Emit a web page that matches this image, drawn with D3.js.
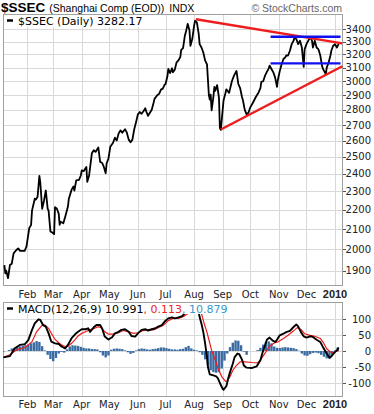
<!DOCTYPE html>
<html><head><meta charset="utf-8">
<script src="https://cdn.jsdelivr.net/npm/d3@7"></script>
<style>body{margin:0;background:#fff}svg{display:block}</style>
</head><body><svg id="c" width="374" height="414"></svg>
<script>
// ---------- DATA ----------
const priceData = [
["2009-01-07",1926],["2009-01-08",1888],["2009-01-09",1900],["2009-01-11",1866],["2009-01-13",1926],["2009-01-15",1932],
["2009-01-17",1981],["2009-01-20",1997],["2009-01-22",2005],["2009-01-24",1993],["2009-01-29",1993],["2009-01-31",2014],
["2009-02-03",2105],["2009-02-05",2122],["2009-02-06",2196],["2009-02-09",2260],["2009-02-10",2255],["2009-02-12",2270],
["2009-02-14",2388],["2009-02-15",2350],["2009-02-17",2206],["2009-02-19",2249],["2009-02-21",2305],["2009-02-23",2206],
["2009-02-24",2196],["2009-02-26",2088],["2009-02-28",2083],["2009-03-02",2075],["2009-03-03",2215],["2009-03-05",2206],
["2009-03-07",2180],["2009-03-08",2122],["2009-03-09",2138],["2009-03-12",2130],["2009-03-14",2163],["2009-03-17",2218],
["2009-03-18",2260],["2009-03-21",2310],["2009-03-23",2328],["2009-03-24",2305],["2009-03-26",2362],["2009-03-29",2365],
["2009-03-31",2390],["2009-04-01",2420],["2009-04-03",2415],["2009-04-06",2440],["2009-04-07",2354],["2009-04-09",2390],
["2009-04-12",2522],["2009-04-14",2540],["2009-04-16",2530],["2009-04-19",2557],["2009-04-21",2470],["2009-04-23",2465],
["2009-04-25",2440],["2009-04-27",2403],["2009-04-28",2460],["2009-04-30",2490],["2009-05-02",2561],["2009-05-05",2586],
["2009-05-07",2618],["2009-05-09",2600],["2009-05-11",2644],["2009-05-13",2665],["2009-05-15",2650],["2009-05-18",2672],
["2009-05-20",2650],["2009-05-22",2606],["2009-05-24",2590],["2009-05-26",2606],["2009-05-28",2672],["2009-05-30",2719],
["2009-06-01",2770],["2009-06-03",2785],["2009-06-05",2774],["2009-06-07",2790],["2009-06-09",2811],["2009-06-10",2790],
["2009-06-12",2760],["2009-06-14",2780],["2009-06-16",2800],["2009-06-18",2848],["2009-06-19",2875],["2009-06-22",2900],
["2009-06-24",2910],["2009-06-26",2940],["2009-06-28",2947],["2009-06-30",2975],["2009-07-01",2980],["2009-07-03",3036],
["2009-07-04",3090],["2009-07-06",3060],["2009-07-08",3095],["2009-07-09",3065],["2009-07-11",3085],["2009-07-13",3140],
["2009-07-15",3155],["2009-07-17",3180],["2009-07-18",3235],["2009-07-20",3250],["2009-07-22",3350],["2009-07-23",3375],
["2009-07-25",3445],["2009-07-27",3390],["2009-07-28",3268],["2009-07-30",3321],["2009-08-01",3430],["2009-08-02",3471],
["2009-08-04",3457],["2009-08-06",3362],["2009-08-07",3281],["2009-08-09",3254],["2009-08-11",3215],["2009-08-13",3153],
["2009-08-15",3125],["2009-08-16",3013],["2009-08-17",2904],["2009-08-18",2870],["2009-08-19",2904],["2009-08-20",2797],
["2009-08-22",2893],["2009-08-23",2960],["2009-08-24",2932],["2009-08-26",2972],["2009-08-27",2927],["2009-08-28",2882],
["2009-08-29",2679],["2009-08-30",2668],["2009-09-02",2866],["2009-09-04",2914],["2009-09-05",2942],["2009-09-08",2917],
["2009-09-11",3000],["2009-09-13",3035],["2009-09-14",3050],["2009-09-16",3075],["2009-09-18",2980],["2009-09-20",2950],
["2009-09-22",2888],["2009-09-23",2866],["2009-09-25",2800],["2009-09-27",2770],["2009-09-29",2780],["2009-10-01",2817],
["2009-10-04",2850],["2009-10-07",2888],["2009-10-10",2920],["2009-10-12",2950],["2009-10-13",2995],["2009-10-15",3000],
["2009-10-17",3040],["2009-10-19",3068],["2009-10-21",3093],["2009-10-22",3115],["2009-10-24",3090],["2009-10-26",3065],
["2009-10-28",3026],["2009-10-30",2960],["2009-10-31",3011],["2009-11-02",3074],["2009-11-04",3125],["2009-11-06",3165],
["2009-11-08",3178],["2009-11-09",3192],["2009-11-11",3192],["2009-11-13",3229],["2009-11-15",3281],["2009-11-17",3308],
["2009-11-18",3335],["2009-11-20",3321],["2009-11-22",3281],["2009-11-24",3308],["2009-11-26",3254],["2009-11-28",3105],
["2009-11-29",3240],["2009-12-01",3281],["2009-12-03",3308],["2009-12-05",3335],["2009-12-07",3308],["2009-12-08",3254],
["2009-12-10",3308],["2009-12-12",3254],["2009-12-14",3240],["2009-12-16",3192],["2009-12-18",3110],["2009-12-19",3090],
["2009-12-21",3065],["2009-12-22",3050],["2009-12-23",3100],["2009-12-25",3137],["2009-12-27",3192],["2009-12-28",3229],
["2009-12-30",3268],["2010-01-01",3281],["2010-01-03",3254],["2010-01-05",3282.17]
];
const macdData = [
["2009-01-06",-20],["2009-01-13",-16],["2009-01-18",8],["2009-01-24",19],["2009-01-29",21],["2009-02-02",34],
["2009-02-06",66],["2009-02-09",86],["2009-02-13",99],["2009-02-15",97],["2009-02-18",81],["2009-02-21",76],
["2009-02-24",55],["2009-02-27",29],["2009-03-03",24],["2009-03-07",22],["2009-03-10",14],["2009-03-14",8],
["2009-03-17",19],["2009-03-21",40],["2009-03-25",53],["2009-03-28",60],["2009-04-01",68],["2009-04-05",68],
["2009-04-08",71],["2009-04-10",60],["2009-04-14",74],["2009-04-17",81],["2009-04-21",81],["2009-04-23",71],
["2009-04-26",45],["2009-04-30",36],["2009-05-04",43],["2009-05-07",55],["2009-05-11",60],["2009-05-14",66],
["2009-05-18",68],["2009-05-22",60],["2009-05-25",47],["2009-05-29",45],["2009-06-01",55],["2009-06-05",66],
["2009-06-09",68],["2009-06-12",64],["2009-06-16",68],["2009-06-20",71],["2009-06-23",76],["2009-06-27",81],
["2009-06-30",92],["2009-07-04",102],["2009-07-08",105],["2009-07-11",102],["2009-07-15",105],["2009-07-19",109],
["2009-07-22",118],["2009-07-26",128],["2009-07-29",140],["2009-08-02",145],["2009-08-06",121],["2009-08-07",106],
["2009-08-09",85],["2009-08-11",59],["2009-08-13",23],["2009-08-15",-19],["2009-08-16",-50],["2009-08-18",-73],
["2009-08-22",-76],["2009-08-25",-79],["2009-08-27",-86],["2009-08-29",-100],["2009-09-01",-118],["2009-09-02",-121],
["2009-09-05",-110],["2009-09-07",-86],["2009-09-09",-66],["2009-09-12",-40],["2009-09-14",-19],["2009-09-17",-8],
["2009-09-19",-10],["2009-09-22",-27],["2009-09-24",-45],["2009-09-27",-52],["2009-10-03",-53],["2009-10-08",-48],
["2009-10-12",-29],["2009-10-14",-8],["2009-10-17",18],["2009-10-19",35],["2009-10-22",42],["2009-10-25",33],
["2009-10-28",28],["2009-10-30",35],["2009-11-02",49],["2009-11-06",54],["2009-11-09",59],["2009-11-13",63],
["2009-11-17",75],["2009-11-20",83],["2009-11-22",77],["2009-11-25",59],["2009-11-28",46],["2009-12-01",42],
["2009-12-05",46],["2009-12-08",44],["2009-12-12",35],["2009-12-16",28],["2009-12-19",12],["2009-12-23",-8],
["2009-12-26",-21],["2009-12-28",-17],["2009-12-31",-6],["2010-01-03",2],["2010-01-05",10.991]
];
const signalData = [
["2009-01-06",-20],["2009-01-13",-12],["2009-01-20",3],["2009-01-26",8],["2009-01-31",14],["2009-02-06",29],
["2009-02-11",60],["2009-02-17",81],["2009-02-20",81],["2009-02-24",71],["2009-02-27",55],["2009-03-03",36],
["2009-03-07",26],["2009-03-10",19],["2009-03-14",14],["2009-03-17",14],["2009-03-21",24],["2009-03-25",36],
["2009-03-28",47],["2009-04-01",55],["2009-04-05",60],["2009-04-10",66],["2009-04-15",71],["2009-04-19",76],
["2009-04-23",71],["2009-04-26",60],["2009-04-30",53],["2009-05-05",53],["2009-05-11",57],["2009-05-16",64],
["2009-05-22",60],["2009-05-27",55],["2009-06-01",57],["2009-06-07",64],["2009-06-12",66],["2009-06-18",66],
["2009-06-23",73],["2009-06-29",81],["2009-07-04",95],["2009-07-09",102],["2009-07-15",102],["2009-07-20",107],
["2009-07-26",118],["2009-07-30",128],["2009-08-04",130],["2009-08-09",117],["2009-08-12",85],["2009-08-15",58],
["2009-08-18",25],["2009-08-20",2],["2009-08-24",-28],["2009-08-27",-55],["2009-08-31",-80],["2009-09-04",-95],
["2009-09-06",-93],["2009-09-09",-80],["2009-09-12",-60],["2009-09-16",-45],["2009-09-20",-34],["2009-09-25",-34],
["2009-10-03",-36],["2009-10-09",-37],["2009-10-13",-24],["2009-10-18",-3],["2009-10-22",15],["2009-10-27",25],
["2009-10-31",28],["2009-11-06",39],["2009-11-11",49],["2009-11-17",63],["2009-11-21",73],["2009-11-25",67],
["2009-11-29",54],["2009-12-05",49],["2009-12-10",46],["2009-12-16",39],["2009-12-19",28],["2009-12-23",7],
["2009-12-27",-3],["2009-12-30",-6],["2010-01-03",0],["2010-01-05",0.113]
];
// histogram samples, one every 3 days starting histStart
const histStart = "2009-01-06";
const histStepDays = 3;
const histValues = [
-2,0,3,8,10,12,14,16,18,20,24,27,31,28,15,2,-12,-25,-32,-22,-8,-3,-5,5,14,18,17,16,13,10,
8,8,6,6,5,-4,-14,-20,-14,4,7,8,7,6,2,-4,-9,-6,2,6,8,7,5,4,6,7,9,11,11,9,
7,5,5,4,6,7,12,16,8,4,2,-4,-12,-26,-45,-60,-66,-68,-66,-55,-30,-8,12,26,33,32,18,-2,-12,0,
0,0,3,10,20,28,30,24,14,10,9,11,12,11,10,9,6,1,-8,-14,-15,-10,-6,-5,-7,-12,-18,-23,-24,-12,
2,10.879
];
const upperTrend = [["2009-08-03",3483],["2010-01-09",3287]];
const lowerTrend = [["2009-08-30",2670],["2010-01-09",3110]];
const resistance = [["2009-10-23",3340],["2010-01-07",3340]];
const support = [["2009-10-23",3132],["2010-01-07",3132]];
const priceTicks = [1900,2000,2100,2200,2300,2400,2500,2600,2700,2800,2900,3000,3100,3200,3300,3400];
const macdTicks = [-100,-50,0,50,100];
const monthTicks = ["2009-02-01","2009-03-01","2009-04-01","2009-05-01","2009-06-01","2009-07-01","2009-08-01","2009-09-01","2009-10-01","2009-11-01","2009-12-01","2010-01-01"];
const monthLabels = ["Feb","Mar","Apr","May","Jun","Jul","Aug","Sep","Oct","Nov","Dec","2010"];
const xDomain = ["2009-01-05T12:00","2010-01-09T16:00"];
const priceDomain = [1831.1,3527.8];
const macdDomain = [-143.75,153.1];

// ---------- DRAW ----------
const parse = d3.timeParse("%Y-%m-%d");
const parseT = d3.timeParse("%Y-%m-%dT%H:%M");
const svg = d3.select("#c");
const L = 3, R = 343;
const P = {top:14, bottom:286};
const M = {top:302, bottom:397};
const x = d3.scaleTime().domain(xDomain.map(parseT)).range([L, R]);
const y = d3.scaleLog().domain(priceDomain).range([P.bottom, P.top]);
const ym = d3.scaleLinear().domain(macdDomain).range([M.bottom, M.top]);
const SANS = "'DejaVu Sans', Verdana, sans-serif";
const ARIAL = "'Liberation Sans', Arial, sans-serif";
const GRID = "#d9d9d9", FRAME = "#a0a0a0";

svg.append("rect").attr("width",374).attr("height",414).attr("fill","#fff");

// header
const hdr = svg.append("text").attr("y",11.5).attr("font-family",ARIAL).attr("fill","#000");
hdr.append("tspan").attr("x",1).attr("font-size",13.5).attr("font-weight","bold").text("$SSEC");
hdr.append("tspan").attr("dx",4).attr("font-size",10.5).text("(Shanghai Comp (EOD))");
hdr.append("tspan").attr("dx",5).attr("font-size",10.5).text("INDX");
svg.append("text").attr("x",342).attr("y",11.5).attr("text-anchor","end")
  .attr("font-family",ARIAL).attr("font-size",10.5).attr("fill","#666").text("© StockCharts.com");

const defs = svg.append("defs");
defs.append("clipPath").attr("id","cp").append("rect").attr("x",L).attr("y",P.top).attr("width",R-L).attr("height",P.bottom-P.top);
defs.append("clipPath").attr("id","cm").append("rect").attr("x",L).attr("y",M.top).attr("width",R-L).attr("height",M.bottom-M.top);

function panel(top, bottom, yScale, ticks, fmt){
  const g = svg.append("g");
  g.selectAll(".hg").data(ticks).join("line")
    .attr("x1",L).attr("x2",R).attr("y1",d=>Math.round(yScale(d))+0.5).attr("y2",d=>Math.round(yScale(d))+0.5)
    .attr("stroke",GRID).attr("stroke-width",1);
  g.selectAll(".vg").data(monthTicks).join("line")
    .attr("x1",d=>Math.round(x(parse(d)))+0.5).attr("x2",d=>Math.round(x(parse(d)))+0.5)
    .attr("y1",top).attr("y2",bottom).attr("stroke",GRID).attr("stroke-width",1);
  g.append("rect").attr("x",L+0.5).attr("y",top+0.5).attr("width",R-L-1).attr("height",bottom-top-1)
    .attr("fill","none").attr("stroke",FRAME).attr("stroke-width",1);
  g.selectAll(".tk").data(ticks).join("line")
    .attr("x1",R).attr("x2",R+3).attr("y1",d=>Math.round(yScale(d))+0.5).attr("y2",d=>Math.round(yScale(d))+0.5)
    .attr("stroke","#555");
  g.selectAll(".tl").data(ticks).join("text")
    .attr("x",371).attr("y",d=>yScale(d)).attr("dy","0.36em").attr("text-anchor","end")
    .attr("font-family",SANS).attr("font-size",10).attr("fill","#222").text(fmt);
  return g;
}
panel(P.top, P.bottom, y, priceTicks, d=>d);
panel(M.top, M.bottom, ym, macdTicks, d=>d);

function monthAxis(yy){
  svg.append("g").selectAll("text").data(monthTicks).join("text")
    .attr("x",d=>x(parse(d))).attr("y",yy).attr("text-anchor","middle")
    .attr("font-family",(d,i)=>i===monthTicks.length-1?ARIAL:SANS)
    .attr("font-weight",(d,i)=>i===monthTicks.length-1?"bold":"normal")
    .attr("font-size",(d,i)=>i===monthTicks.length-1?11:10)
    .attr("fill","#222").text((d,i)=>monthLabels[i]);
}
monthAxis(297.5);
monthAxis(408);

// price panel marks
const gp = svg.append("g").attr("clip-path","url(#cp)");
const pline = d3.line().x(d=>x(parse(d[0]))).y(d=>y(d[1]));
gp.append("path").datum(priceData).attr("d",pline).attr("fill","none").attr("stroke","#000")
  .attr("stroke-width",1.8).attr("stroke-linejoin","round");
[[upperTrend,"#ee1c1c"],[lowerTrend,"#ee1c1c"],[resistance,"#1010ee"],[support,"#1010ee"]].forEach(([dat,col])=>{
  gp.append("path").datum(dat).attr("d",pline).attr("fill","none").attr("stroke",col).attr("stroke-width",2.4);
});

// price legend
svg.append("rect").attr("x",4).attr("y",15).attr("width",142).attr("height",12).attr("fill","#fff");
svg.append("line").attr("x1",7).attr("x2",13).attr("y1",20.5).attr("y2",20.5).attr("stroke","#000").attr("stroke-width",2.5);
svg.append("text").attr("x",18).attr("y",24.5).attr("font-family",SANS).attr("font-size",11).attr("fill","#000")
  .text("$SSEC (Daily) " + priceData[priceData.length-1][1].toFixed(2));

// macd panel marks
const gm = svg.append("g").attr("clip-path","url(#cm)");
const h0 = parse(histStart);
const histData = histValues.map((v,i)=>[d3.timeDay.offset(h0, i*histStepDays), v]);
gm.selectAll(".hb").data(histData).join("rect")
  .attr("x",d=>x(d[0])-1.2).attr("width",2.4)
  .attr("y",d=>Math.min(ym(d[1]),ym(0))).attr("height",d=>Math.abs(ym(d[1])-ym(0)))
  .attr("fill","#3a6ca3");
const mline = d3.line().x(d=>x(parse(d[0]))).y(d=>ym(d[1]));
gm.append("path").datum(signalData).attr("d",mline).attr("fill","none").attr("stroke","#ee1c1c").attr("stroke-width",1.2);
gm.append("path").datum(macdData).attr("d",mline).attr("fill","none").attr("stroke","#000").attr("stroke-width",1.9).attr("stroke-linejoin","round");

// macd legend
svg.append("rect").attr("x",4).attr("y",303).attr("width",230).attr("height",11).attr("fill","#fff");
svg.append("line").attr("x1",7).attr("x2",13).attr("y1",308.5).attr("y2",308.5).attr("stroke","#000").attr("stroke-width",2.5);
const mt = svg.append("text").attr("x",18).attr("y",312.5).attr("font-family",SANS).attr("font-size",11);
mt.append("tspan").attr("fill","#000").text("MACD(12,26,9) " + macdData[macdData.length-1][1].toFixed(3));
mt.append("tspan").attr("fill","#ee1c1c").text(", " + signalData[signalData.length-1][1].toFixed(3));
mt.append("tspan").attr("fill","#3399cc").text(", " + histValues[histValues.length-1].toFixed(3));
</script></body></html>
